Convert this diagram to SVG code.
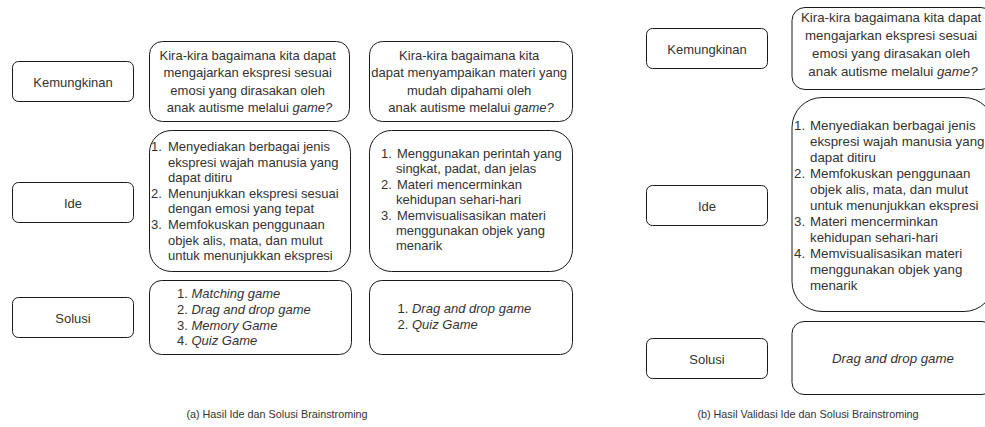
<svg xmlns="http://www.w3.org/2000/svg" width="985" height="427" viewBox="0 0 985 427">
<style>
  text { font-family: "Liberation Sans", Arial, sans-serif; fill: #333333; }
  .box { fill: #ffffff; stroke: #1a1a1a; stroke-width: 1; }
  .lbl { font-size: 13px; text-anchor: middle; }
  .t13 { font-size: 13px; }
  .t133 { font-size: 13.3px; }
  .mid { text-anchor: middle; }
  .it { font-style: italic; }
  .cap { font-size: 10.8px; text-anchor: middle; }
</style>
<rect x="0" y="0" width="985" height="427" fill="#ffffff"/>

<!-- Panel (a) -->
<g id="a-label-kemungkinan">
  <rect class="box" x="12.5" y="61.5" width="121" height="40" rx="6"/>
  <text class="lbl" x="73" y="86.5">Kemungkinan</text>
</g>
<g id="a-label-ide">
  <rect class="box" x="12.5" y="182.5" width="121" height="40" rx="6"/>
  <text class="lbl" x="73" y="207.5">Ide</text>
</g>
<g id="a-label-solusi">
  <rect class="box" x="12.5" y="297.5" width="121" height="40" rx="6"/>
  <text class="lbl" x="73" y="322.5">Solusi</text>
</g>

<g id="a-question-1">
  <rect class="box" x="149.5" y="41.5" width="200" height="80" rx="13"/>
  <text class="t13 mid">
    <tspan x="249.5" y="59.5">Kira-kira bagaimana kita dapat</tspan>
    <tspan x="249.5" y="77">mengajarkan ekspresi sesuai</tspan>
    <tspan x="249.5" y="94.5">emosi yang dirasakan oleh</tspan>
    <tspan x="249.5" y="112">anak autisme melalui <tspan class="it">game?</tspan></tspan>
  </text>
</g>
<g id="a-question-2">
  <rect class="box" x="369.5" y="41.5" width="203" height="80" rx="13"/>
  <text class="t13 mid">
    <tspan x="471" y="59.5">Kira-kira bagaimana kita</tspan>
    <tspan x="471" y="77">dapat menyampaikan materi yang</tspan>
    <tspan x="471" y="94.5">mudah dipahami oleh</tspan>
    <tspan x="471" y="112">anak autisme melalui <tspan class="it">game?</tspan></tspan>
  </text>
</g>

<g id="a-idea-1">
  <rect class="box" x="149.5" y="130.5" width="201" height="141" rx="22"/>
  <text class="t13">
    <tspan x="151" y="151">1.</tspan><tspan x="168" y="151">Menyediakan berbagai jenis</tspan>
    <tspan x="168" y="166.6">ekspresi wajah manusia yang</tspan>
    <tspan x="168" y="182.2">dapat ditiru</tspan>
    <tspan x="151" y="197.8">2.</tspan><tspan x="168" y="197.8">Menunjukkan ekspresi sesuai</tspan>
    <tspan x="168" y="213.4">dengan emosi yang tepat</tspan>
    <tspan x="151" y="229">3.</tspan><tspan x="168" y="229">Memfokuskan penggunaan</tspan>
    <tspan x="168" y="244.6">objek alis, mata, dan mulut</tspan>
    <tspan x="168" y="260.2">untuk menunjukkan ekspresi</tspan>
  </text>
</g>
<g id="a-idea-2">
  <rect class="box" x="369.5" y="130.5" width="203" height="141" rx="22"/>
  <text class="t13">
    <tspan x="381" y="158">1.</tspan><tspan x="397" y="158">Menggunakan perintah yang</tspan>
    <tspan x="396" y="173.4">singkat, padat, dan jelas</tspan>
    <tspan x="381" y="188.8">2.</tspan><tspan x="397" y="188.8">Materi mencerminkan</tspan>
    <tspan x="396" y="204.2">kehidupan sehari-hari</tspan>
    <tspan x="381" y="219.6">3.</tspan><tspan x="397" y="219.6">Memvisualisasikan materi</tspan>
    <tspan x="396" y="235">menggunakan objek yang</tspan>
    <tspan x="396" y="250.4">menarik</tspan>
  </text>
</g>

<g id="a-solution-1">
  <rect class="box" x="149.5" y="280.5" width="202" height="74" rx="12"/>
  <text class="t13">
    <tspan x="177" y="298">1. </tspan><tspan class="it">Matching game</tspan>
    <tspan x="177" y="313.8">2. </tspan><tspan class="it">Drag and drop game</tspan>
    <tspan x="177" y="329.6">3. </tspan><tspan class="it">Memory Game</tspan>
    <tspan x="177" y="345.4">4. </tspan><tspan class="it">Quiz Game</tspan>
  </text>
</g>
<g id="a-solution-2">
  <rect class="box" x="369.5" y="280.5" width="203" height="74" rx="12"/>
  <text class="t13">
    <tspan x="397.5" y="313">1. </tspan><tspan class="it">Drag and drop game</tspan>
    <tspan x="397.5" y="329">2. </tspan><tspan class="it">Quiz Game</tspan>
  </text>
</g>

<g id="a-caption">
  <text class="cap" x="277" y="418">(a) Hasil Ide dan Solusi Brainstroming</text>
</g>

<!-- Panel (b) -->
<g id="b-label-kemungkinan">
  <rect class="box" x="646.5" y="28.5" width="121" height="40" rx="6"/>
  <text class="lbl" x="707" y="53.5">Kemungkinan</text>
</g>
<g id="b-label-ide">
  <rect class="box" x="646.5" y="185.5" width="121" height="40" rx="6"/>
  <text class="lbl" x="707" y="210.5">Ide</text>
</g>
<g id="b-label-solusi">
  <rect class="box" x="646.5" y="338.5" width="121" height="40" rx="6"/>
  <text class="lbl" x="707" y="363.5">Solusi</text>
</g>

<g id="b-question">
  <rect class="box" x="792" y="7.5" width="202" height="82" rx="13"/>
  <text class="t133 mid">
    <tspan x="893" y="22">Kira-kira bagaimana kita dapat</tspan>
    <tspan x="893" y="40">mengajarkan ekspresi sesuai</tspan>
    <tspan x="893" y="58">emosi yang dirasakan oleh</tspan>
    <tspan x="893" y="76">anak autisme melalui <tspan class="it">game?</tspan></tspan>
  </text>
</g>
<g id="b-idea">
  <rect class="box" x="792" y="97.5" width="202" height="214" rx="30"/>
  <text class="t133">
    <tspan x="794" y="130">1.</tspan><tspan x="810" y="130">Menyediakan berbagai jenis</tspan>
    <tspan x="810" y="146">ekspresi wajah manusia yang</tspan>
    <tspan x="810" y="162">dapat ditiru</tspan>
    <tspan x="794" y="178">2.</tspan><tspan x="810" y="178">Memfokuskan penggunaan</tspan>
    <tspan x="810" y="194">objek alis, mata, dan mulut</tspan>
    <tspan x="810" y="210">untuk menunjukkan ekspresi</tspan>
    <tspan x="794" y="226">3.</tspan><tspan x="810" y="226">Materi mencerminkan</tspan>
    <tspan x="810" y="242">kehidupan sehari-hari</tspan>
    <tspan x="794" y="258">4.</tspan><tspan x="810" y="258">Memvisualisasikan materi</tspan>
    <tspan x="810" y="274">menggunakan objek yang</tspan>
    <tspan x="810" y="290">menarik</tspan>
  </text>
</g>
<g id="b-solution">
  <rect class="box" x="792" y="321.5" width="202" height="73" rx="12"/>
  <text class="t133 mid it" x="893" y="362.5">Drag and drop game</text>
</g>

<g id="b-caption">
  <text class="cap" x="808" y="418">(b) Hasil Validasi Ide dan Solusi Brainstroming</text>
</g>
</svg>
